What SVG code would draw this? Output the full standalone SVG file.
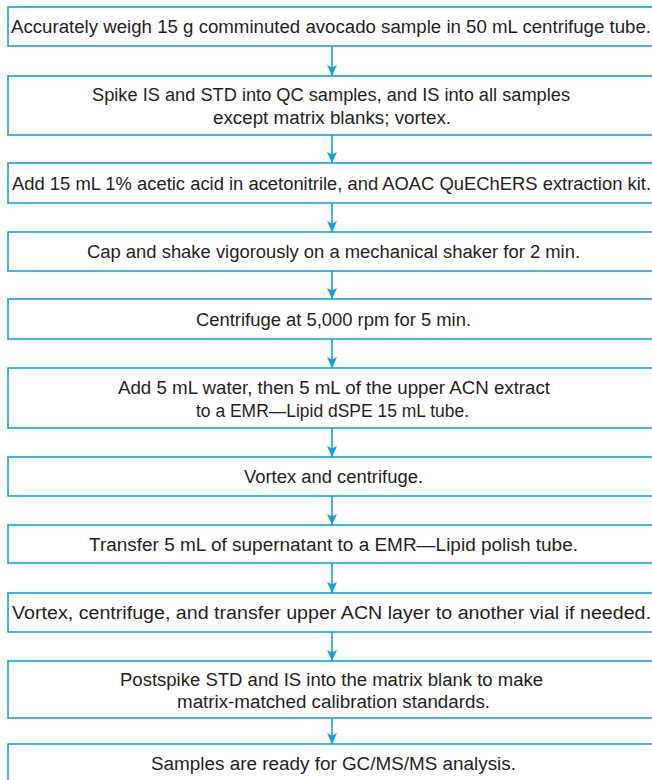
<svg xmlns="http://www.w3.org/2000/svg" width="652" height="780" viewBox="0 0 652 780">
  <style>
    .box { fill: #ffffff; stroke: #14a0de; stroke-width: 1.6; }
    .lbl { font-family: "Liberation Sans Narrow", "Liberation Sans", Arial, sans-serif; font-size: 18px; fill: #231f20; text-anchor: middle; }
    .link { stroke: #14a0de; stroke-width: 1.6; fill: none; marker-end: url(#arrow); }
  </style>
  <defs>
    <marker id="arrow" markerUnits="userSpaceOnUse" markerWidth="14" markerHeight="12" viewBox="-1 -6 14 12" refX="11" refY="0" orient="auto">
      <path d="M0,-5 L11,0 L0,5 L2.5,0 z" fill="#14a0de"/>
    </marker>
  </defs>
  <rect width="652" height="780" fill="#ffffff"/>

  <g id="connectors">
    <line class="link" x1="332" y1="46" x2="332" y2="76"/>
    <line class="link" x1="332" y1="135" x2="332" y2="163"/>
    <line class="link" x1="332" y1="203" x2="332" y2="232"/>
    <line class="link" x1="332" y1="271" x2="332" y2="299"/>
    <line class="link" x1="332" y1="339" x2="332" y2="368"/>
    <line class="link" x1="332" y1="428" x2="332" y2="457"/>
    <line class="link" x1="332" y1="496" x2="332" y2="525"/>
    <line class="link" x1="332" y1="563" x2="332" y2="593"/>
    <line class="link" x1="332" y1="632" x2="332" y2="661"/>
    <line class="link" x1="332" y1="718" x2="332" y2="744"/>
  </g>

  <g id="step1">
    <rect class="box" x="8" y="7" width="660" height="39"/>
    <text class="lbl" x="331" y="33.3" textLength="640" lengthAdjust="spacingAndGlyphs">Accurately weigh 15 g comminuted avocado sample in 50 mL centrifuge tube.</text>
  </g>
  <g id="step2">
    <rect class="box" x="8" y="76" width="660" height="59"/>
    <text class="lbl" x="331" y="101" textLength="478" lengthAdjust="spacingAndGlyphs">Spike IS and STD into QC samples, and IS into all samples</text>
    <text class="lbl" x="332" y="123.5" textLength="238" lengthAdjust="spacingAndGlyphs">except matrix blanks; vortex.</text>
  </g>
  <g id="step3">
    <rect class="box" x="8" y="163" width="660" height="40"/>
    <text class="lbl" x="331.5" y="189.5" textLength="639" lengthAdjust="spacingAndGlyphs">Add 15 mL 1% acetic acid in acetonitrile, and AOAC QuEChERS extraction kit.</text>
  </g>
  <g id="step4">
    <rect class="box" x="8" y="232" width="660" height="39"/>
    <text class="lbl" x="333.5" y="257.5" textLength="493" lengthAdjust="spacingAndGlyphs">Cap and shake vigorously on a mechanical shaker for 2 min.</text>
  </g>
  <g id="step5">
    <rect class="box" x="8" y="299" width="660" height="40"/>
    <text class="lbl" x="333.5" y="325.5" textLength="275" lengthAdjust="spacingAndGlyphs">Centrifuge at 5,000 rpm for 5 min.</text>
  </g>
  <g id="step6">
    <rect class="box" x="8" y="368" width="660" height="60"/>
    <text class="lbl" x="334" y="393.5" textLength="432" lengthAdjust="spacingAndGlyphs">Add 5 mL water, then 5 mL of the upper ACN extract</text>
    <text class="lbl" x="332.5" y="416.5" textLength="273" lengthAdjust="spacingAndGlyphs">to a EMR—Lipid dSPE 15 mL tube.</text>
  </g>
  <g id="step7">
    <rect class="box" x="8" y="457" width="660" height="39"/>
    <text class="lbl" x="333.5" y="482.5" textLength="179" lengthAdjust="spacingAndGlyphs">Vortex and centrifuge.</text>
  </g>
  <g id="step8">
    <rect class="box" x="8" y="525" width="660" height="38"/>
    <text class="lbl" x="333.5" y="550.5" textLength="489" lengthAdjust="spacingAndGlyphs">Transfer 5 mL of supernatant to a EMR—Lipid polish tube.</text>
  </g>
  <g id="step9">
    <rect class="box" x="8" y="593" width="660" height="39"/>
    <text class="lbl" x="331.5" y="618.5" textLength="639" lengthAdjust="spacingAndGlyphs">Vortex, centrifuge, and transfer upper ACN layer to another vial if needed.</text>
  </g>
  <g id="step10">
    <rect class="box" x="8" y="661" width="660" height="57"/>
    <text class="lbl" x="331.5" y="685.5" textLength="423" lengthAdjust="spacingAndGlyphs">Postspike STD and IS into the matrix blank to make</text>
    <text class="lbl" x="333.5" y="707.5" textLength="313" lengthAdjust="spacingAndGlyphs">matrix-matched calibration standards.</text>
  </g>
  <g id="step11">
    <rect class="box" x="8" y="744" width="660" height="60"/>
    <text class="lbl" x="333.5" y="769.5" textLength="365" lengthAdjust="spacingAndGlyphs">Samples are ready for GC/MS/MS analysis.</text>
  </g>
</svg>
